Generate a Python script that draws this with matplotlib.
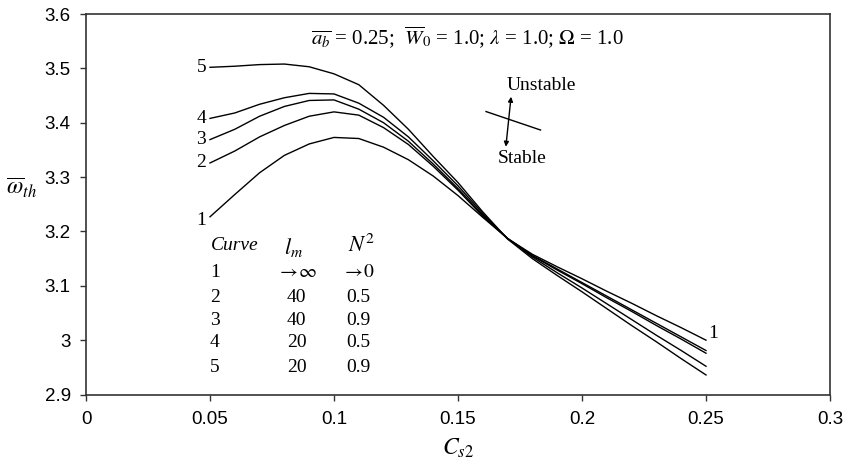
import matplotlib
matplotlib.use("Agg")
import matplotlib.pyplot as plt

plt.rcParams['mathtext.fontset'] = 'stix'

# data
cs2 = [0.05, 0.06, 0.07, 0.08, 0.09, 0.10, 0.11, 0.12, 0.13, 0.14, 0.15,
       0.16, 0.17, 0.18, 0.19, 0.20, 0.21, 0.22, 0.23, 0.24, 0.25]
curve1 = [3.227, 3.268, 3.308, 3.340, 3.361, 3.373, 3.371, 3.355, 3.332, 3.302, 3.266,
          3.226, 3.187, 3.158, 3.135, 3.113, 3.090, 3.068, 3.045, 3.023, 3.000]
curve2 = [3.326, 3.348, 3.374, 3.395, 3.412, 3.420, 3.414, 3.391, 3.360, 3.320, 3.276,
          3.228, 3.187, 3.156, 3.131, 3.106, 3.081, 3.056, 3.031, 3.006, 2.981]
curve3 = [3.369, 3.388, 3.412, 3.430, 3.441, 3.442, 3.425, 3.400, 3.366, 3.324, 3.279,
          3.230, 3.187, 3.155, 3.129, 3.104, 3.078, 3.053, 3.027, 3.002, 2.976]
curve4 = [3.408, 3.418, 3.434, 3.446, 3.454, 3.453, 3.436, 3.410, 3.374, 3.330, 3.284,
          3.233, 3.187, 3.153, 3.124, 3.096, 3.067, 3.038, 3.009, 2.981, 2.952]
curve5 = [3.502, 3.504, 3.507, 3.508, 3.503, 3.490, 3.470, 3.432, 3.388, 3.338, 3.290,
          3.236, 3.186, 3.150, 3.119, 3.089, 3.058, 3.027, 2.997, 2.966, 2.936]
curves = [curve1, curve2, curve3, curve4, curve5]
curve_names = ['1', '2', '3', '4', '5']

table_rows = [('1', r'$\rightarrow\!\infty$', r'$\rightarrow\!0$'),
              ('2', '40', '0.5'),
              ('3', '40', '0.9'),
              ('4', '20', '0.5'),
              ('5', '20', '0.9')]

serif = 'Liberation Serif'
sans = 'Liberation Sans'

fig = plt.figure(figsize=(8.49, 4.68), dpi=100)
ax = fig.add_axes([0.1013, 0.157, 0.8763, 0.813])

for name, ys in zip(curve_names, curves):
    ax.plot(cs2, ys, color='black', linewidth=1.0)
    ax.text(cs2[0] - 0.0015, ys[0] - (0.006 if name == '1' else 0), name,
            ha='right', va='center', fontsize=14, family=serif)
# label "1" at the right end of curve 1
ax.text(cs2[-1] + 0.0008, curve1[-1] + 0.012, '1', ha='left', va='center',
        fontsize=14, family=serif)

ax.set_xlim(0, 0.3)
ax.set_ylim(2.9, 3.6)
ax.set_xticks([0, 0.05, 0.1, 0.15, 0.2, 0.25, 0.3])
ax.set_xticklabels(['0', '0.05', '0.1', '0.15', '0.2', '0.25', '0.3'])
ax.set_yticks([2.9, 3.0, 3.1, 3.2, 3.3, 3.4, 3.5, 3.6])
ax.set_yticklabels(['2.9', '3', '3.1', '3.2', '3.3', '3.4', '3.5', '3.6'])
ax.tick_params(direction='out', length=4, width=1, color='#333333',
               labelsize=13.5)
ax.tick_params(axis='x', pad=8)
ax.tick_params(axis='y', pad=7)
for lab in ax.get_xticklabels() + ax.get_yticklabels():
    lab.set_family(sans)
for sp in ax.spines.values():
    sp.set_color('#333333')
    sp.set_linewidth(1.2)

ax.set_xlabel(r'$C_{s2}$', fontsize=17)
ax.xaxis.set_label_coords(0.5, -0.11)
ax.set_ylabel(r'$\overline{\omega}_{th}$', fontsize=17, rotation=0,
              va='center', ha='center')
ax.yaxis.set_label_coords(-0.086, 0.543)

# parameter line at top
ax.text(0.1536, 3.558,
        r'$\overline{a_b}$ = 0.25;  $\overline{W}_0$ = 1.0; $\lambda$ = 1.0; $\Omega$ = 1.0',
        ha='center', va='center', fontsize=15, family=serif)

# stability marker
ax.plot([0.1613, 0.1833], [3.4206, 3.3866], color='black', linewidth=1.0)
ax.annotate('', xy=(0.1714, 3.4479), xytext=(0.1693, 3.3559),
            arrowprops=dict(arrowstyle='<|-|>', color='black', lw=1.0,
                            mutation_scale=7, shrinkA=0, shrinkB=0))
ax.text(0.1837, 3.4694, 'Unstable', ha='center', va='center',
        fontsize=14, family=serif)
ax.text(0.1757, 3.3344, 'Stable', ha='center', va='center',
        fontsize=14, family=serif)

# curve parameter table
col_x = [0.052, 0.0850, 0.1100]
ax.text(0.0601, 3.175, 'Curve', ha='center', va='center',
        fontsize=14, family=serif, style='italic')
ax.text(0.0835, 3.171, r'$l_m$', ha='center', va='center', fontsize=16)
ax.text(0.1113, 3.175, r'$N^2$', ha='center', va='center', fontsize=16)
row_y = [3.1236, 3.0794, 3.0371, 2.9948, 2.9506]
for yy, (c, lm, n2) in zip(row_y, table_rows):
    ax.text(col_x[0], yy, c, ha='center', va='center', fontsize=14, family=serif)
    ax.text(col_x[1], yy, lm, ha='center', va='center', fontsize=14, family=serif)
    ax.text(col_x[2], yy, n2, ha='center', va='center', fontsize=14, family=serif)

fig.savefig('out.png', dpi=100)
